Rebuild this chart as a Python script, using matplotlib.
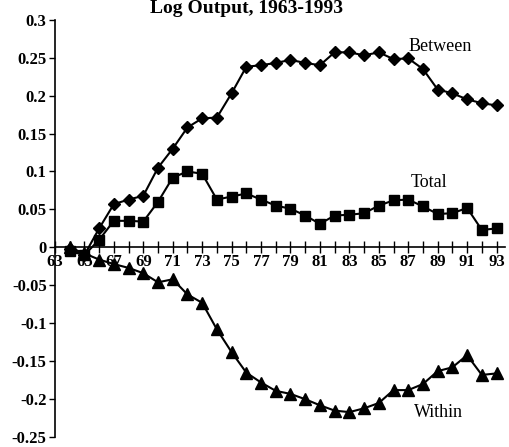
import numpy as np
import matplotlib.pyplot as plt

years = np.arange(64, 94)

between = [-0.002, -0.01, 0.025, 0.057, 0.063, 0.068, 0.105, 0.13, 0.158, 0.17,
           0.171, 0.203, 0.238, 0.24, 0.243, 0.247, 0.243, 0.24, 0.257, 0.257,
           0.253, 0.257, 0.248, 0.249, 0.235, 0.208, 0.203, 0.195, 0.19, 0.187]
total = [-0.005, -0.01, 0.01, 0.035, 0.035, 0.034, 0.06, 0.092, 0.1, 0.097,
         0.063, 0.067, 0.071, 0.063, 0.055, 0.051, 0.042, 0.031, 0.042, 0.043,
         0.045, 0.055, 0.062, 0.063, 0.054, 0.044, 0.045, 0.052, 0.023, 0.025]
within = [0.0, -0.008, -0.016, -0.022, -0.027, -0.034, -0.046, -0.042, -0.062, -0.073,
          -0.108, -0.138, -0.165, -0.178, -0.189, -0.193, -0.2, -0.208, -0.215, -0.217,
          -0.212, -0.205, -0.188, -0.188, -0.18, -0.163, -0.158, -0.142, -0.168, -0.166]

yticks = [0.3, 0.25, 0.2, 0.15, 0.1, 0.05, 0, -0.05, -0.1, -0.15, -0.2, -0.25]
ytick_labels = ['0.3', '0.25', '0.2', '0.15', '0.1', '0.05', '0',
                '-0.05', '-0.1', '-0.15', '-0.2', '-0.25']

plt.rcParams['font.family'] = ['Liberation Serif', 'DejaVu Serif']

fig = plt.figure(figsize=(5.09, 4.47), dpi=100)
ax = fig.add_axes([0.108, 0.022, 0.884, 0.934])

ax.plot(years, between, '-D', color='black', linewidth=1.5, markersize=6)
ax.plot(years, total, '-s', color='black', linewidth=1.5, markersize=7)
ax.plot(years, within, '-^', color='black', linewidth=1.5, markersize=8)

ax.set_xlim(63, 93.57)
ax.set_ylim(-0.25, 0.3)

ax.spines['top'].set_visible(False)
ax.spines['right'].set_visible(False)
ax.spines['bottom'].set_position(('data', 0))
ax.spines['left'].set_linewidth(1.2)
ax.spines['bottom'].set_linewidth(1.2)

ax.set_yticks(yticks)
ax.set_yticklabels(ytick_labels, fontsize=12, fontweight='bold')
ax.tick_params(axis='y', direction='out', length=4, width=1, pad=2)

ax.set_xticks(np.arange(63, 94))
ax.set_xticklabels([str(y) if y % 2 == 1 else '' for y in range(63, 94)],
                   fontsize=12, fontweight='bold')
ax.tick_params(axis='x', direction='inout', length=8, width=1, pad=1)

ax.text(87.0, 0.265, 'Between', fontsize=13, va='center')
ax.text(87.2, 0.086, 'Total', fontsize=13, va='center')
ax.text(87.4, -0.217, 'Within', fontsize=13, va='center')

fig.text(0.485, 0.999, 'Log Output, 1963-1993', fontsize=14, fontweight='bold',
         ha='center', va='top')

fig.savefig('out.png', dpi=100)
